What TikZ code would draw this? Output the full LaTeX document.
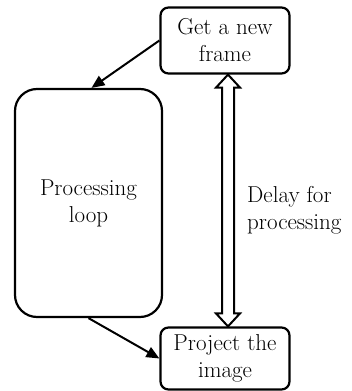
\documentclass[tikz,border=0pt]{standalone}
\usetikzlibrary{arrows.meta,calc}
\begin{document}
\begin{tikzpicture}[x=1pt,y=-1pt,
  box/.style={draw,line width=2.2pt,align=center,inner sep=0pt,font=\fontsize{23}{27}\selectfont},
  conn/.style={line width=2pt,-{Triangle[length=13pt,width=11pt]}},
  lbl/.style={align=left,inner sep=0pt,font=\fontsize{23}{27}\selectfont}]
\useasboundingbox (0,0) rectangle (352,391);
\node[box,rounded corners=8pt,minimum width=129pt,minimum height=66pt] (top) at (225,40.5) {Get a new\\frame};
\node[box,rounded corners=8pt,minimum width=129pt,minimum height=62pt] (bot) at (225,358.5) {Project the\\image};
\node[box,rounded corners=22pt,minimum width=147pt,minimum height=228pt] (loop) at (88.5,203) {Processing\\loop};
\draw[conn] (top.west) -- ($(loop.north)+(3,0)$);
\draw[conn] (loop.south) -- (bot.west);
\draw[line width=2pt,line join=miter] ($(top.south)+(3,0)$) -- ++(12,13) -- ++(-6,0)
  -- ($(bot.north)+(9,-13)$) -- ++(6,0) -- ($(bot.north)+(3,0)$) -- ++(-12,-13) -- ++(6,0)
  -- ($(top.south)+(-3,13)$) -- ++(-6,0) -- cycle;
\node[lbl,anchor=west] (dl) at (247,210) {Delay for\\processing};
\end{tikzpicture}
\end{document}
